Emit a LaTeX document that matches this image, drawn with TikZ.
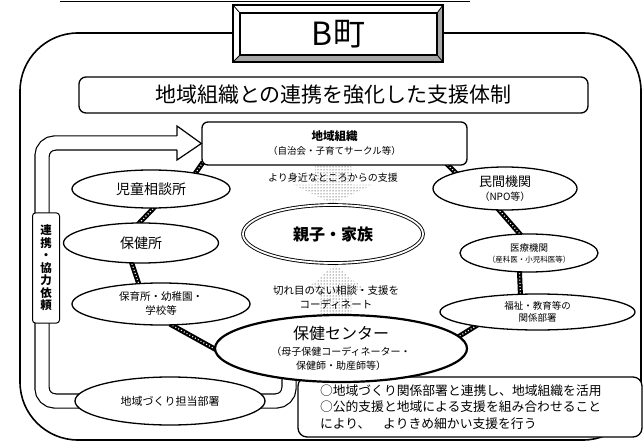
\documentclass[tikz,border=0pt]{standalone}
\usepackage{fontspec}
\setmainfont{Noto Sans CJK JP}
\usetikzlibrary{shapes.geometric,patterns}
\pgfdeclarelayer{bg}
\pgfsetlayers{bg,main}
\newcommand\fsz[2]{\fontsize{#1}{#2}\selectfont}
\begin{document}
\begin{tikzpicture}[x=1pt,y=-1pt,
  ell/.style={ellipse, draw, line width=1.3pt, fill=white, inner sep=0pt, align=center},
  rope/.style={line width=5pt, draw=black, shorten <=-3pt, shorten >=-3pt,
     postaction={draw=white, line width=1.2pt, dash pattern=on 1pt off 2.2pt, shorten <=-3pt, shorten >=-3pt}},
  band/.style={draw=black, line width=1.2pt, double=white, double distance=13pt, rounded corners=13pt},
  stip/.style={pattern=dots, pattern color=black},
  rbox/.style={draw, line width=1.3pt, fill=white, rounded corners=7pt, inner sep=0pt, align=center}]
\useasboundingbox (0,0) rectangle (644,443);

% outer frame
\draw[line width=1.6pt, rounded corners=58pt] (20,33) rectangle (641,440);
\draw[line width=1.2pt] (60,1.5) -- (470,1.5);

% title box with bevel
\fill[white] (233,5) rectangle (443,62);
\fill[black!35] (437,13) -- (443,5) -- (443,62) -- (437,55) -- cycle;
\fill[black!35] (240,55) -- (437,55) -- (443,62) -- (233,62) -- cycle;
\draw[line width=1.1pt] (233,5) rectangle (443,62);
\node[draw, line width=1.1pt, minimum width=197pt, minimum height=42pt, inner sep=0pt, font=\fsz{32}{32}] (title) at (338.5,34) {B町};
\draw[line width=0.8pt] (233,5) -- (title.north west) (443,5) -- (title.north east)
  (233,62) -- (title.south west) (443,62) -- (title.south east);

% banner
\node[rbox, minimum width=509pt, minimum height=36pt, font=\fsz{21}{21}] (banner) at (333.5,95) {地域組織との連携を強化した支援体制};

% stippled arrows
\fill[stip] (315,166) -- (351,166) -- (351,185) -- (372,185) -- (333,204) -- (294,185) -- (315,185) -- cycle;
\fill[stip] (319,317) -- (351,317) -- (351,290) -- (365,290) -- (335,265) -- (305,290) -- (319,290) -- cycle;

% bottom text box
\node[draw, line width=1.3pt, fill=white, rounded corners=9pt, minimum height=60pt, inner xsep=22pt, inner ysep=0pt, text width=300pt, align=left, font=\fsz{12.8}{16.5}] (note) at (470,407)
 {○地域づくり関係部署と連携し、地域組織を活用\\○公的支援と地域による支援を組み合わせること\\により、　よりきめ細かい支援を行う};

% community organisation box
\node[rbox, rounded corners=6pt, minimum width=265pt, minimum height=43pt, font=\fsz{9.5}{13}] (chiiki) at (334.5,143.5)
 {{\fsz{11.5}{15}\bfseries 地域組織}\\[1pt]（自治会・子育てサークル等）};

% ellipses
\node[ell, minimum width=158pt, minimum height=38pt, font=\fsz{14}{16}] (jido) at (151,189) {児童相談所};
\node[ell, minimum width=155pt, minimum height=40pt, font=\fsz{14}{16}] (hokenjo) at (141,243) {保健所};
\node[ell, minimum width=178pt, minimum height=42pt, font=\fsz{10.5}{14}] (hoiku) at (161,304) {保育所・幼稚園・\\学校等};
\node[ell, minimum width=190pt, minimum height=48pt, font=\fsz{11}{13}] (dz) at (170,401) {地域づくり担当部署};
\node[ell, line width=2.2pt, minimum width=252pt, minimum height=67pt, font=\fsz{10}{14.5}] (hc) at (341,348.5)
 {{\fsz{16}{17}保健センター}\\[1pt]（母子保健コーディネーター・\\保健師・助産師等）};
\node[ell, line width=0.9pt, double, double distance=1.8pt, minimum width=180pt, minimum height=58pt, font=\fsz{16}{18}\bfseries] (oyako) at (333,234) {親子・家族};
\node[ell, minimum width=144pt, minimum height=43pt, font=\fsz{10}{13}] (minkan) at (505,188.5) {{\fsz{13}{15}民間機関}\\[1pt]（NPO等）};
\node[ell, minimum width=138pt, minimum height=38pt, font=\fsz{7.5}{10}] (iryo) at (529,253) {{\fsz{9.5}{11}医療機関}\\[1pt]（産科医・小児科医等）};
\node[ell, minimum width=195pt, minimum height=36pt, font=\fsz{9.5}{12.5}] (fukushi) at (537.5,312) {福祉・教育等の\\関係部署};

% vertical label on the band
\node[draw, line width=1pt, fill=white, rounded corners=3pt, minimum width=27pt, minimum height=110pt, inner sep=0pt, align=center, font=\fsz{11.5}{12.5}\bfseries] (renkei) at (46,268)
 {連\\携\\・\\協\\力\\依\\頼};

% band and ropes behind
\begin{pgfonlayer}{bg}
\draw[band] (dz.center) -- (42,401) -- (42,143) -- (177,143);
\draw[band] (dz.center) -- (289,401) -- (289,360);
\draw[rope] (chiiki.189) -- (jido.20);
\draw[rope] (jido.-84) -- (hokenjo.93);
\draw[rope] (hokenjo.-114) -- (hoiku.137);
\draw[rope] (hoiku.-62) -- (hc.180);
\draw[rope] (hc.6) -- (fukushi.193);
\draw[rope] (fukushi.133) -- (iryo.-116);
\draw[rope] (iryo.116) -- (minkan.-104);
\draw[rope] (minkan.162) -- (chiiki.-11);
\end{pgfonlayer}

% arrow head of band
\coordinate (tip) at (chiiki.west);
\fill[white] (177,136.5) -- (177,126) -- (tip) -- (177,160) -- (177,149.5) -- cycle;
\draw[line width=1.2pt, line join=miter] (177,136) -- (177,126) -- (tip) -- (177,160) -- (177,150);

% labels on stippled arrows
\node[font=\fsz{10}{12}] (t1) at (333,178) {より身近なところからの支援};
\node[align=center, font=\fsz{10.5}{14}] (t2) at (336,297) {切れ目のない相談・支援を\\コーディネート};
\end{tikzpicture}
\end{document}
